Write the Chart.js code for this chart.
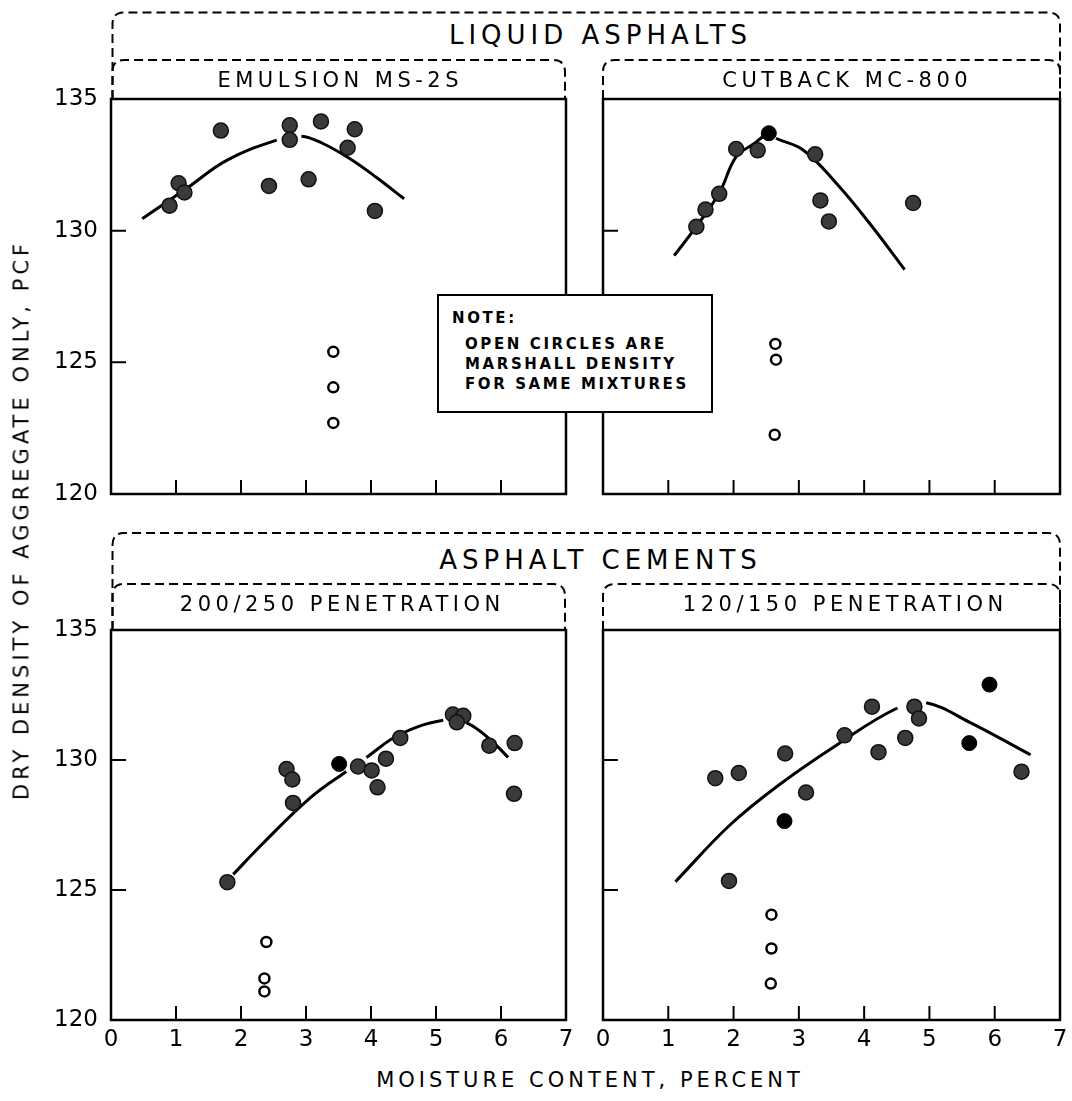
<!DOCTYPE html>
<html>
<head>
<meta charset="utf-8">
<title>Dry density vs moisture content</title>
<script src="https://cdn.jsdelivr.net/npm/chart.js@4/dist/chart.umd.min.js"></script>
<style>
  html, body { margin: 0; padding: 0; background: #fff; }
  #page {
    position: relative;
    width: 1072px;
    height: 1101px;
    overflow: hidden;
    font-family: "DejaVu Sans", sans-serif;
    color: #000;
  }
  #page canvas, #page svg { position: absolute; }
  .txt {
    position: absolute;
    white-space: nowrap;
    line-height: 1;
    transform: translate(-50%, -50%);
  }
  .group { font-size: 26px; letter-spacing: 5px; padding-left: 5px; }
  .sub { font-size: 21px; letter-spacing: 4.5px; padding-left: 4.5px; }
  .axis-title { font-size: 21px; letter-spacing: 4px; padding-left: 4px; }
  #y-title { transform: translate(-50%, -50%) rotate(-90deg); }
  #note {
    position: absolute;
    left: 437px;
    top: 294px;
    width: 272px;
    height: 115px;
    border: 2px solid #000;
    background: #fff;
    font-weight: bold;
    font-size: 15px;
    letter-spacing: 2.6px;
    line-height: 20px;
  }
  #note div { position: absolute; white-space: nowrap; }
</style>
</head>
<body>
<div id="page">
  <svg width="1072" height="1101">
    <g fill="none" stroke="#000" stroke-width="2" stroke-dasharray="9 5">
      <path d="M112.5 99 V24 Q112.5 12.5 124 12.5 H1048 Q1060 12.5 1060 24 V99"/>
      <path d="M112.5 99 V72 Q112.5 60 124 60 H553 Q565 60 565 72 V99"/>
      <path d="M603 99 V72 Q603 60 615 60 H1048 Q1060 60 1060 72 V99"/>
      <path d="M112.5 630 V545 Q112.5 533 124 533 H1048 Q1060 533 1060 545 V630"/>
      <path d="M112.5 630 V596 Q112.5 584 124 584 H553 Q565 584 565 596 V630"/>
      <path d="M603 630 V596 Q603 584 615 584 H1048 Q1060 584 1060 596 V630"/>
    </g>
  </svg>

  <canvas id="chart-ms2s" width="575" height="430" style="left:0;top:80px"></canvas>
  <canvas id="chart-mc800" width="486" height="430" style="left:583px;top:80px"></canvas>
  <canvas id="chart-pen200" width="575" height="450" style="left:0;top:611px"></canvas>
  <canvas id="chart-pen120" width="486" height="450" style="left:583px;top:611px"></canvas>

  <div class="txt group" style="left:598px;top:35px">LIQUID ASPHALTS</div>
  <div class="txt sub" style="left:338px;top:80px">EMULSION MS-2S</div>
  <div class="txt sub" style="left:845px;top:80px">CUTBACK MC-800</div>
  <div class="txt group" style="left:598px;top:560px">ASPHALT CEMENTS</div>
  <div class="txt sub" style="left:340px;top:604px">200/250 PENETRATION</div>
  <div class="txt sub" style="left:843px;top:604px">120/150 PENETRATION</div>

  <div id="y-title" class="txt axis-title" style="left:22px;top:522px">DRY DENSITY OF AGGREGATE ONLY, PCF</div>
  <div class="txt axis-title" style="left:588px;top:1080px">MOISTURE CONTENT, PERCENT</div>

  <div id="note">
    <div style="left:13px;top:12px">NOTE:</div>
    <div style="left:26px;top:38px">OPEN CIRCLES ARE</div>
    <div style="left:26px;top:58px">MARSHALL DENSITY</div>
    <div style="left:26px;top:78px">FOR SAME MIXTURES</div>
  </div>
</div>

<script>
// axis ticks
const densityTicks = [120, 125, 130, 135];
const moistureTicks = [0, 1, 2, 3, 4, 5, 6, 7];

// Emulsion MS-2S
const ms2sX = [0.90, 1.04, 1.13, 1.69, 2.43, 2.75, 2.75, 3.04, 3.23, 3.64, 3.75, 4.06];
const ms2sY = [130.95, 131.8, 131.45, 133.8, 131.7, 134.0, 133.45, 131.95, 134.15, 133.15, 133.85, 130.75];
const ms2sBlackX = [];
const ms2sBlackY = [];
const ms2sMarshallX = [3.42, 3.42, 3.42];
const ms2sMarshallY = [125.4, 124.05, 122.7];
const ms2sCurveX = [0.48, 1.19, 1.78, 2.55, 2.93, 3.26, 3.67, 4.08, 4.51];
const ms2sCurveY = [130.45, 131.65, 132.67, 133.44, 133.59, 133.31, 132.74, 132.03, 131.21];
const ms2sCurveBreaks = [[2.55, 2.93]];

// Cutback MC-800
const mc800X = [1.43, 1.57, 1.78, 2.04, 2.37, 3.25, 3.33, 3.46, 4.75];
const mc800Y = [130.15, 130.8, 131.4, 133.1, 133.05, 132.9, 131.15, 130.35, 131.05];
const mc800BlackX = [2.54];
const mc800BlackY = [133.7];
const mc800MarshallX = [2.64, 2.65, 2.63];
const mc800MarshallY = [125.7, 125.1, 122.25];
const mc800CurveX = [1.09, 1.43, 1.78, 2.04, 2.3, 2.55, 2.65, 3.06, 3.57, 4.08, 4.62];
const mc800CurveY = [129.05, 130.16, 131.43, 132.81, 133.28, 133.7, 133.51, 133.07, 131.81, 130.29, 128.52];
const mc800CurveBreaks = [[2.55, 2.65]];

// 200/250 penetration
const pen200X = [1.79, 2.70, 2.79, 2.80, 3.80, 4.01, 4.10, 4.23, 4.45, 5.26, 5.42, 5.32, 5.82, 6.21, 6.20];
const pen200Y = [125.3, 129.65, 129.25, 128.35, 129.75, 129.6, 128.95, 130.05, 130.85, 131.75, 131.7, 131.45, 130.55, 130.65, 128.7];
const pen200BlackX = [3.51];
const pen200BlackY = [129.85];
const pen200MarshallX = [2.39, 2.36, 2.36];
const pen200MarshallY = [123.0, 121.6, 121.1];
const pen200CurveX = [1.88, 2.34, 3.06, 3.62, 3.93, 4.44, 5.11, 5.47, 5.83, 6.11];
const pen200CurveY = [125.6, 126.8, 128.53, 129.56, 130.1, 130.98, 131.53, 131.43, 130.79, 130.1];
const pen200CurveBreaks = [[3.62, 3.93], [5.11, 5.47]];

// 120/150 penetration
const pen120X = [1.72, 2.08, 1.93, 2.79, 3.11, 3.70, 4.12, 4.22, 4.63, 4.77, 4.84, 6.41];
const pen120Y = [129.3, 129.5, 125.35, 130.25, 128.75, 130.95, 132.05, 130.3, 130.85, 132.05, 131.6, 129.55];
const pen120BlackX = [2.78, 5.61, 5.92];
const pen120BlackY = [127.65, 130.65, 132.9];
const pen120MarshallX = [2.58, 2.58, 2.57];
const pen120MarshallY = [124.05, 122.75, 121.4];
const pen120CurveX = [1.11, 1.94, 2.70, 3.57, 4.51, 4.95, 5.61, 6.55];
const pen120CurveY = [125.32, 127.49, 129.05, 130.56, 132.0, 132.2, 131.46, 130.2];
const pen120CurveBreaks = [[4.51, 4.95]];

const toPoints = (xs, ys) => xs.map((x, i) => ({ x, y: ys[i] }));

const labelFont = { family: "DejaVu Sans", size: 23 };

// box around the plot plus short tick marks pointing inwards
const frameAndTicks = {
	id: "frameAndTicks",
	beforeDatasetsDraw(chart) {
		const { ctx, chartArea: a, scales } = chart;
		ctx.save();
		ctx.strokeStyle = "#000";
		ctx.lineWidth = 2.5;
		ctx.strokeRect(a.left, a.top, a.right - a.left, a.bottom - a.top);
		ctx.lineWidth = 2;
		ctx.beginPath();
		scales.y.ticks.forEach(t => {
			if (t.value <= scales.y.min || t.value >= scales.y.max) return;
			const y = scales.y.getPixelForValue(t.value);
			ctx.moveTo(a.left, y);
			ctx.lineTo(a.left + 15, y);
		});
		scales.x.ticks.forEach(t => {
			if (t.value <= scales.x.min || t.value >= scales.x.max) return;
			const x = scales.x.getPixelForValue(t.value);
			ctx.moveTo(x, a.bottom);
			ctx.lineTo(x, a.bottom - 14);
		});
		ctx.stroke();
		ctx.restore();
	}
};

// tick marks themselves are hidden (grid off); tickLength only spaces the labels
const makeYScale = (showLabels, width) => ({
	type: "linear",
	min: 120,
	max: 135,
	grid: { display: false, drawTicks: true, tickLength: 13 },
	border: { display: false },
	afterBuildTicks: scale => {
		scale.ticks = densityTicks.map(value => ({ value }));
	},
	ticks: { display: showLabels, padding: 0, color: "#000", font: labelFont },
	afterFit: scale => {
		scale.width = width;
	}
});

const makeXScale = (showLabels, height) => ({
	type: "linear",
	min: 0,
	max: 7,
	grid: { display: false, drawTicks: true, tickLength: 6 },
	border: { display: false },
	afterBuildTicks: scale => {
		scale.ticks = moistureTicks.map(value => ({ value }));
	},
	ticks: { display: showLabels, padding: 0, maxRotation: 0, autoSkip: false, color: "#000", font: labelFont },
	afterFit: scale => {
		scale.height = height;
	}
});

// the hand-drawn curve is interrupted where it runs through the plotted points
const curveSegment = breaks => ({
	borderColor: seg => {
		const x0 = seg.p0.parsed.x;
		const x1 = seg.p1.parsed.x;
		return breaks.some(([a, b]) => x0 >= a && x1 <= b) ? "rgba(0,0,0,0)" : "#000";
	}
});

const renderPanel = (id, series, opts) => {
	const ctx = document.getElementById(id).getContext("2d");
	new Chart(ctx, {
		type: "scatter",
		data: {
			datasets: [
				{
					data: toPoints(series.blackX, series.blackY),
					pointRadius: 7.5,
					pointBackgroundColor: "#000",
					pointBorderColor: "#000",
					pointBorderWidth: 1
				},
				{
					data: toPoints(series.x, series.y),
					pointRadius: 7.5,
					pointBackgroundColor: "#3a3a3a",
					pointBorderColor: "#111",
					pointBorderWidth: 1.5
				},
				{
					data: toPoints(series.marshallX, series.marshallY),
					pointRadius: 5,
					pointBackgroundColor: "#fff",
					pointBorderColor: "#000",
					pointBorderWidth: 2.5
				},
				{
					data: toPoints(series.curveX, series.curveY),
					showLine: true,
					pointRadius: 0,
					borderColor: "#000",
					borderWidth: 3,
					tension: 0.4,
					fill: false,
					segment: curveSegment(series.breaks)
				}
			]
		},
		options: {
			responsive: false,
			animation: false,
			events: [],
			layout: { padding: { top: 19, right: 9, bottom: 0, left: 0 } },
			plugins: { legend: { display: false }, tooltip: { enabled: false } },
			scales: {
				x: makeXScale(opts.xLabels, opts.xHeight),
				y: makeYScale(opts.yLabels, opts.yWidth)
			}
		},
		plugins: [frameAndTicks]
	});
};

renderPanel("chart-ms2s", {
	x: ms2sX, y: ms2sY, blackX: ms2sBlackX, blackY: ms2sBlackY,
	marshallX: ms2sMarshallX, marshallY: ms2sMarshallY,
	curveX: ms2sCurveX, curveY: ms2sCurveY, breaks: ms2sCurveBreaks
}, { xLabels: false, xHeight: 16, yLabels: true, yWidth: 111 });

renderPanel("chart-mc800", {
	x: mc800X, y: mc800Y, blackX: mc800BlackX, blackY: mc800BlackY,
	marshallX: mc800MarshallX, marshallY: mc800MarshallY,
	curveX: mc800CurveX, curveY: mc800CurveY, breaks: mc800CurveBreaks
}, { xLabels: false, xHeight: 16, yLabels: false, yWidth: 20 });

renderPanel("chart-pen200", {
	x: pen200X, y: pen200Y, blackX: pen200BlackX, blackY: pen200BlackY,
	marshallX: pen200MarshallX, marshallY: pen200MarshallY,
	curveX: pen200CurveX, curveY: pen200CurveY, breaks: pen200CurveBreaks
}, { xLabels: true, xHeight: 41, yLabels: true, yWidth: 111 });

renderPanel("chart-pen120", {
	x: pen120X, y: pen120Y, blackX: pen120BlackX, blackY: pen120BlackY,
	marshallX: pen120MarshallX, marshallY: pen120MarshallY,
	curveX: pen120CurveX, curveY: pen120CurveY, breaks: pen120CurveBreaks
}, { xLabels: true, xHeight: 41, yLabels: false, yWidth: 20 });
</script>
</body>
</html>
